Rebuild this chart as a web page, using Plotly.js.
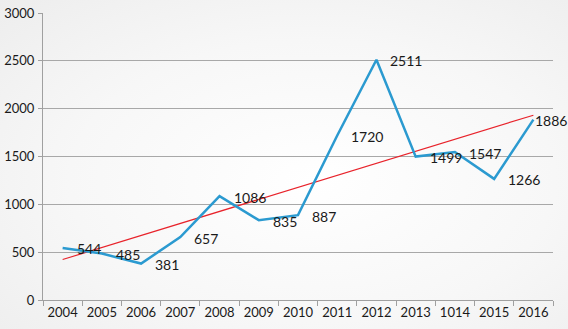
<!DOCTYPE html>
<html><head><meta charset="utf-8">
<script src="https://cdn.plot.ly/plotly-3.0.1.min.js"></script>
<style>
html,body{margin:0;padding:0;}
#chart{width:568px;height:329px;background:radial-gradient(ellipse at 55% 55%, #ffffff 0%, #f7f7f7 55%, #ededed 100%);}
</style></head>
<body><div id="chart"></div>
<script>
var years = ["2004","2005","2006","2007","2008","2009","2010","2011","2012","2013","1014","2015","2016"];
var values = [544,485,381,657,1086,835,887,1720,2511,1499,1547,1266,1886];
var yTicks = [0,500,1000,1500,2000,2500,3000];

// linear trendline (least squares) from the series
var n = values.length, mx = (n-1)/2, my = values.reduce(function(a,b){return a+b;},0)/n;
var sxy = 0, sxx = 0;
values.forEach(function(v,i){ sxy += (i-mx)*(v-my); sxx += (i-mx)*(i-mx); });
var slope = sxy/sxx, icpt = my - slope*mx;
var trend = years.map(function(_,i){ return icpt + slope*i; });

var font = "Lato, 'Open Sans', sans-serif";
var data = [
  {x: years, y: trend, type:'scatter', mode:'lines', line:{color:'#e8232b', width:1.2}, hoverinfo:'skip'},
  {x: years, y: values, type:'scatter', mode:'lines',
   line:{color:'#2b9ad0', width:2.5}, cliponaxis:false}
];
var annotations = years.map(function(yr,i){
  var last = (i === years.length-1);
  return {x: i, y: values[i], xref:'x', yref:'y', text: String(values[i]), showarrow:false,
          xanchor:'left', yanchor:'middle', xshift: last ? 0 : 12, yshift:-1,
          font:{family:font, size:14, color:'#1a1a1a'}};
});
var layout = {
  width:568, height:329,
  margin:{l:43, r:15, t:13, b:29},
  paper_bgcolor:'rgba(0,0,0,0)', plot_bgcolor:'rgba(0,0,0,0)',
  showlegend:false,
  annotations: annotations,
  font:{family:font, size:13, color:'#1a1a1a'},
  xaxis:{type:'category', range:[-0.5, years.length-0.5], tickson:'boundaries', ticks:'outside', ticklen:5, tickcolor:'#a0a0a0',
         showline:true, linecolor:'#a0a0a0', linewidth:1, showgrid:false, zeroline:false, tickangle:0,
         tickfont:{family:font, size:13, color:'#1a1a1a'}, fixedrange:true},
  yaxis:{range:[0,3000], tickvals:yTicks, ticks:'outside', ticklen:4, tickcolor:'#a0a0a0',
         showline:true, linecolor:'#a0a0a0', linewidth:1, gridcolor:'#a8a8a8', gridwidth:1,
         zeroline:false, tickfont:{family:font, size:13, color:'#1a1a1a'}, ticklabelstandoff:1, fixedrange:true}
};
Plotly.newPlot('chart', data, layout, {displayModeBar:false, staticPlot:true});
</script></body></html>
